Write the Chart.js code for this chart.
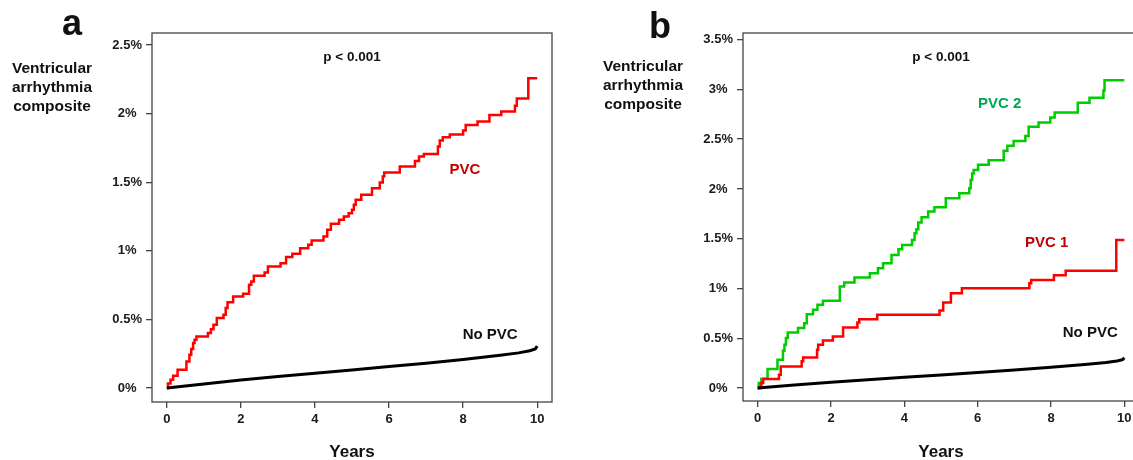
<!DOCTYPE html>
<html>
<head>
<meta charset="utf-8">
<script src="https://cdn.jsdelivr.net/npm/chart.js@4.4.1/dist/chart.umd.min.js"></script>
<style>
  html, body { margin: 0; padding: 0; background: #fff; overflow: hidden; width: 1133px; height: 460px; }
  canvas { position: absolute; top: 0; }
  #chartA { left: 0; }
  #chartB { left: 566px; }
  .txt { position: absolute; font-family: "Liberation Sans", Arial, sans-serif; font-weight: bold; color: #111; text-align: center; white-space: nowrap; }
  .panel { font-size: 36px; line-height: 36px; width: 60px; }
  .ylab { font-size: 15.5px; line-height: 19px; width: 120px; }
  .xlab { font-size: 17px; line-height: 20px; width: 100px; }
</style>
</head>
<body>
<canvas id="chartA" width="566" height="460"></canvas>
<canvas id="chartB" width="600" height="460"></canvas>

<div class="txt panel" style="left:42px; top:5px;">a</div>
<div class="txt panel" style="left:630px; top:8px;">b</div>
<div class="txt ylab" style="left:-8px; top:58px;">Ventricular<br>arrhythmia<br>composite</div>
<div class="txt ylab" style="left:583px; top:56px;">Ventricular<br>arrhythmia<br>composite</div>
<div class="txt xlab" style="left:302px; top:442px;">Years</div>
<div class="txt xlab" style="left:891px; top:442px;">Years</div>

<script>
// axis ticks
const yearTicks = [0, 2, 4, 6, 8, 10];
const pctTicksA = [0, 0.5, 1, 1.5, 2, 2.5];
const pctLabelsA = ["0%", "0.5%", "1%", "1.5%", "2%", "2.5%"];
const pctTicksB = [0, 0.5, 1, 1.5, 2, 2.5, 3, 3.5];
const pctLabelsB = ["0%", "0.5%", "1%", "1.5%", "2%", "2.5%", "3%", "3.5%"];

// panel a: PVC, time of each step (years) and cumulative incidence after it (%)
const pvcA_t = [0, 0.03, 0.10, 0.17, 0.29, 0.53, 0.61, 0.66, 0.71, 0.75, 0.80, 1.11, 1.19, 1.26, 1.35,
  1.53, 1.59, 1.64, 1.79, 2.06, 2.22, 2.28, 2.35, 2.64, 2.73, 3.07, 3.22, 3.39, 3.60, 3.82, 3.91,
  4.23, 4.33, 4.43, 4.65, 4.78, 4.91, 5.00, 5.05, 5.10, 5.25, 5.54, 5.75, 5.83, 5.87, 6.29, 6.70,
  6.81, 6.94, 7.32, 7.37, 7.45, 7.64, 8.00, 8.07, 8.39, 8.71, 9.03, 9.40, 9.45, 9.76, 10.0];
const pvcA_v = [0, 0.032, 0.061, 0.090, 0.133, 0.194, 0.243, 0.284, 0.328, 0.352, 0.376, 0.400, 0.429, 0.461, 0.510,
  0.534, 0.583, 0.624, 0.667, 0.687, 0.752, 0.777, 0.818, 0.842, 0.886, 0.910, 0.954, 0.978, 1.019, 1.044, 1.075,
  1.104, 1.153, 1.197, 1.226, 1.250, 1.274, 1.299, 1.335, 1.371, 1.408, 1.456, 1.498, 1.541, 1.570, 1.614, 1.655,
  1.687, 1.706, 1.760, 1.803, 1.828, 1.847, 1.876, 1.917, 1.942, 1.990, 2.015, 2.056, 2.109, 2.257, 2.257];

// No PVC (both panels)
const noPvc_t = [0, 1, 2, 3, 4, 5, 6, 7, 8, 9, 9.5, 9.8, 9.95, 10];
const noPvc_v = [0, 0.030, 0.058, 0.084, 0.108, 0.132, 0.156, 0.181, 0.208, 0.238, 0.256, 0.272, 0.285, 0.305];

// panel b: PVC 2
const pvc2_t = [0, 0.03, 0.10, 0.27, 0.54, 0.69, 0.73, 0.77, 0.82, 1.10, 1.27, 1.34, 1.51, 1.63, 1.78,
  2.24, 2.36, 2.64, 3.06, 3.28, 3.42, 3.65, 3.84, 3.94, 4.21, 4.28, 4.33, 4.38, 4.47, 4.65, 4.82,
  5.13, 5.50, 5.77, 5.81, 5.85, 5.89, 6.01, 6.30, 6.71, 6.81, 6.98, 7.30, 7.39, 7.66, 7.98, 8.10,
  8.73, 9.05, 9.43, 9.46, 10.0];
const pvc2_v = [0, 0.050, 0.094, 0.191, 0.284, 0.374, 0.435, 0.502, 0.559, 0.602, 0.652, 0.742, 0.786, 0.836, 0.876,
  1.020, 1.060, 1.110, 1.153, 1.204, 1.254, 1.337, 1.394, 1.438, 1.488, 1.555, 1.595, 1.662, 1.715, 1.772, 1.815,
  1.906, 1.956, 2.006, 2.089, 2.156, 2.190, 2.243, 2.287, 2.384, 2.434, 2.481, 2.531, 2.625, 2.668, 2.718, 2.768,
  2.865, 2.915, 2.989, 3.092, 3.092];

// panel b: PVC 1
const pvc1_t = [0, 0.10, 0.15, 0.58, 0.63, 1.20, 1.24, 1.62, 1.65, 1.78, 2.05, 2.33, 2.72, 2.77, 3.26,
  4.96, 5.06, 5.27, 5.57, 7.41, 7.46, 8.08, 8.40, 9.78, 10.0];
const pvc1_v = [0, 0.050, 0.090, 0.134, 0.217, 0.268, 0.308, 0.385, 0.435, 0.478, 0.518, 0.608, 0.658, 0.692, 0.736,
  0.779, 0.859, 0.953, 1.003, 1.053, 1.086, 1.133, 1.177, 1.488, 1.488];

const FONT = '"Liberation Sans", Arial, sans-serif';

const pts = (t, v) => t.map((x, i) => ({ x: x, y: v[i] }));

// box round the plot + text notes inside it
const notes = {
  id: "notes",
  beforeDatasetsDraw(chart) {
    const { ctx, chartArea: a } = chart;
    ctx.save();
    ctx.strokeStyle = "#444";
    ctx.lineWidth = 1.3;
    ctx.strokeRect(a.left, a.top, a.right - a.left, a.bottom - a.top);
    ctx.restore();
  },
  afterDatasetsDraw(chart, args, opts) {
    const { ctx, scales } = chart;
    ctx.save();
    ctx.textAlign = "center";
    ctx.textBaseline = "middle";
    (opts.items || []).forEach((it) => {
      ctx.font = "bold " + it.size + "px " + FONT;
      ctx.fillStyle = it.color;
      ctx.fillText(it.text, scales.x.getPixelForValue(it.x), scales.y.getPixelForValue(it.y));
    });
    ctx.restore();
  },
};

function axes(yMin, yMax, yTicks, yLabels, yWidth, xHeight) {
  const tickFont = { family: FONT, size: 13, weight: "bold" };
  return {
    x: {
      type: "linear",
      min: -0.4,
      max: 10.4,
      afterBuildTicks: (s) => { s.ticks = yearTicks.map((v) => ({ value: v })); },
      afterFit: (s) => { s.height = xHeight; },
      grid: { drawOnChartArea: false, drawTicks: true, tickLength: 6, color: "#444", lineWidth: 1.3 },
      border: { display: false },
      ticks: { padding: 4, color: "#1a1a1a", font: tickFont, maxRotation: 0, autoSkip: false,
        callback: (v, i) => String(yearTicks[i]) },
    },
    y: {
      type: "linear",
      min: yMin,
      max: yMax,
      afterBuildTicks: (s) => { s.ticks = yTicks.map((v) => ({ value: v })); },
      afterFit: (s) => { s.width = yWidth; },
      grid: { drawOnChartArea: false, drawTicks: true, tickLength: 6, color: "#444", lineWidth: 1.3 },
      border: { display: false },
      ticks: { padding: 4, crossAlign: "center", color: "#1a1a1a", font: tickFont, autoSkip: false,
        callback: (v, i) => yLabels[i] },
    },
  };
}

function line(label, data, color, width, stepped) {
  return {
    label: label,
    data: data,
    borderColor: color,
    borderWidth: width,
    pointRadius: 0,
    fill: false,
    tension: 0,
    stepped: stepped,
  };
}

new Chart(document.getElementById("chartA"), {
  type: "line",
  data: {
    datasets: [
      line("No PVC", pts(noPvc_t, noPvc_v), "#000", 3, false),
      line("PVC", pts(pvcA_t, pvcA_v), "#ff0000", 2.5, "before"),
    ],
  },
  options: {
    responsive: false,
    animation: false,
    layout: { padding: { left: 0, right: 14, top: 33, bottom: 0 } },
    scales: axes(-0.102, 2.587, pctTicksA, pctLabelsA, 152, 58),
    plugins: {
      legend: { display: false },
      tooltip: { enabled: false },
      notes: {
        items: [
          { text: "p < 0.001", x: 5.0, y: 2.41, size: 13.5, color: "#111" },
          { text: "PVC", x: 8.05, y: 1.59, size: 15, color: "#c00000" },
          { text: "No PVC", x: 8.73, y: 0.386, size: 15, color: "#111" },
        ],
      },
    },
  },
  plugins: [notes],
});

new Chart(document.getElementById("chartB"), {
  type: "line",
  data: {
    datasets: [
      line("No PVC", pts(noPvc_t, noPvc_v), "#000", 3, false),
      line("PVC 1", pts(pvc1_t, pvc1_v), "#ff0000", 2.5, "before"),
      line("PVC 2", pts(pvc2_t, pvc2_v), "#00cc00", 2.5, "before"),
    ],
  },
  options: {
    responsive: false,
    animation: false,
    layout: { padding: { left: 0, right: 27, top: 33, bottom: 0 } },
    scales: axes(-0.13, 3.566, pctTicksB, pctLabelsB, 177, 59),
    plugins: {
      legend: { display: false },
      tooltip: { enabled: false },
      notes: {
        items: [
          { text: "p < 0.001", x: 5.0, y: 3.32, size: 13.5, color: "#111" },
          { text: "PVC 2", x: 6.6, y: 2.85, size: 15, color: "#00a650" },
          { text: "PVC 1", x: 7.88, y: 1.46, size: 15, color: "#c00000" },
          { text: "No PVC", x: 9.07, y: 0.55, size: 15, color: "#111" },
        ],
      },
    },
  },
  plugins: [notes],
});
</script>
</body>
</html>
